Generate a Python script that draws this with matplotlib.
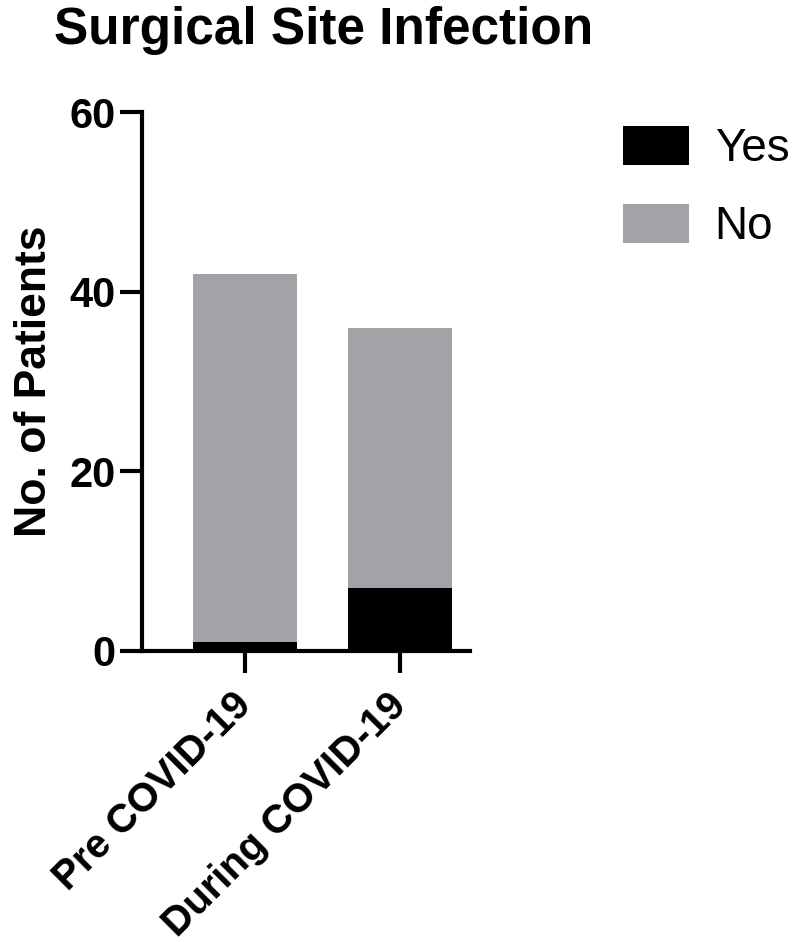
import matplotlib
matplotlib.use("Agg")
import matplotlib.pyplot as plt

categories = ["Pre COVID-19", "During COVID-19"]
yes_vals = [1, 7]
no_vals = [41, 29]
yticks = [0, 20, 40, 60]

plt.rcParams['font.family'] = ['Liberation Sans', 'DejaVu Sans']

fig = plt.figure(figsize=(7.93, 9.42), dpi=100)
ax = fig.add_axes([0.179, 0.309, 0.414, 0.572])

x = list(range(len(categories)))
w = 0.67
ax.bar(x, yes_vals, width=w, color='black', label='Yes')
ax.bar(x, no_vals, width=w, bottom=yes_vals, color='#a3a2a7', label='No')

ax.set_xlim(-0.665, 1.452)
ax.set_ylim(0, 60)
ax.set_yticks(yticks)
ax.set_xticks(x)
ax.set_xticklabels(categories, rotation=45, ha='right', va='center',
                   rotation_mode='anchor', fontsize=29, fontweight='bold')
ax.set_yticklabels([str(t) for t in yticks], fontsize=30, fontweight='bold')
for s in ['top', 'right']:
    ax.spines[s].set_visible(False)
for s in ['left', 'bottom']:
    ax.spines[s].set_linewidth(3)
ax.tick_params(axis='both', width=3, length=16, pad=3)
ax.tick_params(axis='x', pad=19)
ax.set_ylabel('No. of Patients', fontsize=32, fontweight='bold', labelpad=10)

fig.text(0.068, 0.968, 'Surgical Site Infection', fontsize=37, fontweight='bold',
         va='center', ha='left')

leg = fig.legend(loc='upper left', bbox_to_anchor=(0.785, 0.866), frameon=False,
                 fontsize=33, handlelength=1.46, handleheight=0.92,
                 labelspacing=0.72, handletextpad=0.55, borderaxespad=0,
                 borderpad=0)

fig.savefig('out.png', dpi=100)
